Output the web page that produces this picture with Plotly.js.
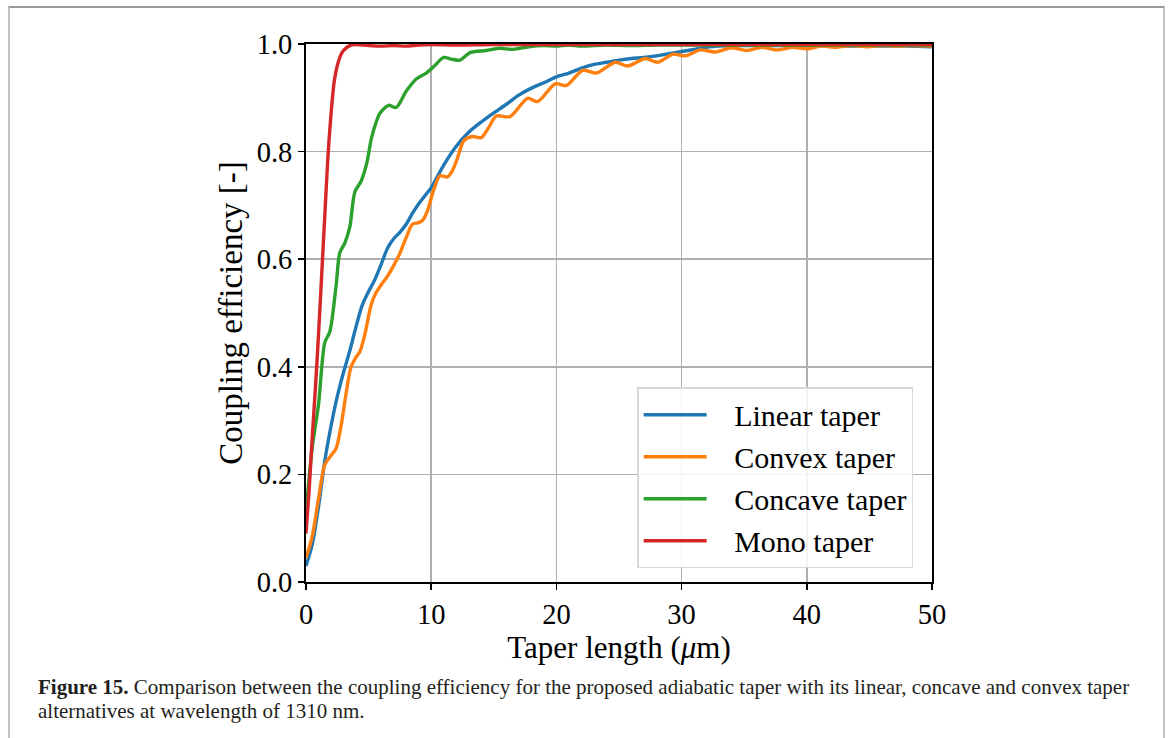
<!DOCTYPE html>
<html>
<head>
<meta charset="utf-8">
<script src="https://cdn.plot.ly/plotly-3.0.1.min.js"></script>
<style>
  html, body { margin: 0; padding: 0; background: #ffffff; }
  #wrap { position: relative; width: 1168px; height: 738px; overflow: hidden; }
  #chart { position: absolute; left: 0; top: 0; width: 1168px; height: 738px; }
  #frame { position: absolute; left: 8px; top: 6px; width: 1153px; height: 800px;
           border-top: 2px solid #9a9a9a; border-left: 2px solid #c4c4c4; border-right: 2px solid #c4c4c4;
           pointer-events: none; }
</style>
</head>
<body>
<div id="wrap">
  <div id="chart"></div>
  <div id="frame"></div>
</div>
<script>
// ---- Data ----
const seriesNames = ["Linear taper", "Convex taper", "Concave taper", "Mono taper"];
const seriesColors = ["#1f77b4", "#ff7f0e", "#2ca02c", "#d62728"];

const linearX = [0, 0.5, 1.0, 1.5, 2.0, 2.5, 3.0, 3.5, 4.0, 4.5, 5.0, 5.5, 6.0, 6.5, 7.0, 7.5, 8.0, 8.5, 9.0, 9.5, 10, 11, 12, 13, 14, 15, 16, 17, 18, 19, 20, 21, 22, 23, 24, 25, 26, 27, 28, 29, 30, 31, 32, 33, 34, 36, 38, 40, 42, 44, 46, 48, 50];
const linearY = [0.03, 0.07, 0.14, 0.225, 0.29, 0.345, 0.39, 0.43, 0.475, 0.515, 0.54, 0.562, 0.59, 0.62, 0.638, 0.65, 0.665, 0.685, 0.703, 0.718, 0.733, 0.775, 0.81, 0.836, 0.855, 0.872, 0.888, 0.905, 0.918, 0.928, 0.939, 0.946, 0.955, 0.962, 0.966, 0.970, 0.973, 0.975, 0.978, 0.982, 0.986, 0.990, 0.994, 0.996, 0.997, 0.997, 0.997, 0.997, 0.996, 0.996, 0.996, 0.996, 0.995];

const convexX = [0, 0.5, 1.0, 1.5, 2.0, 2.4, 2.8, 3.2, 3.6, 4.0, 4.3, 4.7, 5.2, 5.6, 6.0, 6.5, 7.0, 7.5, 8.0, 8.5, 9.0, 9.3, 9.7, 10.2, 10.7, 11.3, 11.7, 12.1, 12.6, 13.3, 14.0, 14.6, 15.2, 16.3, 17.7, 18.5, 19.9, 20.8, 22.1, 23.2, 24.7, 25.7, 27.1, 28.1, 29.3, 30.3, 31.5, 32.7, 34.0, 35.2, 36.4, 37.6, 38.9, 40.0, 41.2, 42.4, 43.6, 44.8, 46.0, 47.2, 48.4, 50];
const convexY = [0.045, 0.085, 0.155, 0.218, 0.235, 0.248, 0.29, 0.35, 0.40, 0.418, 0.428, 0.46, 0.515, 0.538, 0.552, 0.568, 0.588, 0.611, 0.64, 0.665, 0.668, 0.672, 0.69, 0.729, 0.755, 0.753, 0.765, 0.788, 0.82, 0.828, 0.826, 0.845, 0.866, 0.865, 0.899, 0.893, 0.926, 0.923, 0.951, 0.946, 0.966, 0.959, 0.973, 0.966, 0.981, 0.978, 0.989, 0.985, 0.993, 0.988, 0.994, 0.989, 0.994, 0.991, 0.996, 0.994, 0.997, 0.995, 0.997, 0.996, 0.997, 0.996];

const concaveX = [0, 0.5, 1.0, 1.5, 1.9, 2.4, 2.7, 3.1, 3.5, 3.9, 4.4, 4.85, 5.25, 5.9, 6.6, 7.2, 8.0, 8.8, 9.6, 10.2, 11.0, 11.6, 12.3, 13.1, 14.4, 15.5, 16.5, 17.8, 19, 20, 21, 22, 24, 26, 28, 30, 35, 40, 45, 50];
const concaveY = [0.13, 0.25, 0.33, 0.445, 0.465, 0.55, 0.612, 0.63, 0.66, 0.725, 0.745, 0.778, 0.827, 0.871, 0.886, 0.882, 0.912, 0.935, 0.946, 0.958, 0.975, 0.972, 0.970, 0.984, 0.988, 0.992, 0.990, 0.995, 0.997, 0.996, 0.998, 0.996, 0.998, 0.997, 0.998, 0.998, 0.998, 0.998, 0.998, 0.998];

const monoX = [0, 0.25, 0.5, 0.75, 1.0, 1.25, 1.5, 1.75, 2.0, 2.25, 2.5, 2.75, 3.0, 3.5, 4, 5, 6, 7, 8, 9, 10, 12, 15, 20, 30, 40, 50];
const monoY = [0.09, 0.17, 0.27, 0.36, 0.46, 0.57, 0.68, 0.79, 0.87, 0.93, 0.96, 0.978, 0.988, 0.997, 0.999, 0.997, 0.996, 0.997, 0.996, 0.998, 0.999, 0.998, 0.999, 0.999, 0.999, 0.999, 0.999];

const xTicks = [0, 10, 20, 30, 40, 50];
const yTicks = [0.0, 0.2, 0.4, 0.6, 0.8, 1.0];

const captionLines = [
  "<b>Figure 15.</b> Comparison between the coupling efficiency for the proposed adiabatic taper with its linear, concave and convex taper",
  "alternatives at wavelength of 1310 nm."
];

const xs = [linearX, convexX, concaveX, monoX];
const ys = [linearY, convexY, concaveY, monoY];

const SERIF = "Liberation Serif, Times New Roman, serif";
const PAD = "\u00A0\u00A0\u00A0";

const traces = seriesNames.map((name, i) => ({
  type: "scatter",
  mode: "lines",
  name: PAD + name,
  legendgroup: "g" + i,
  x: xs[i],
  y: ys[i],
  line: { color: seriesColors[i], width: 3.4, shape: "spline", smoothing: 0.8 }
}));

const layout = {
  width: 1168,
  height: 738,
  paper_bgcolor: "rgba(255,255,255,0)",
  plot_bgcolor: "#ffffff",
  margin: { l: 306, r: 236, t: 44, b: 156 },
  showlegend: true,
  xaxis: {
    range: [0, 50],
    tickvals: xTicks,
    ticktext: xTicks.map(String),
    ticks: "outside", ticklen: 6, tickwidth: 1.5, tickcolor: "#000",
    showline: true, linecolor: "#000", linewidth: 2, mirror: true,
    showgrid: true, gridcolor: "#b0b0b0", gridwidth: 1.5,
    zeroline: false,
    tickfont: { family: SERIF, size: 28.5, color: "#000" },
    title: { text: "Taper length (<i>μ</i>m)", font: { family: SERIF, size: 31, color: "#000" }, standoff: 4 }
  },
  yaxis: {
    range: [0, 1],
    tickvals: yTicks,
    ticktext: yTicks.map(v => v.toFixed(1)),
    ticks: "outside", ticklen: 6, tickwidth: 1.5, tickcolor: "#000",
    showline: true, linecolor: "#000", linewidth: 2, mirror: true,
    showgrid: true, gridcolor: "#b0b0b0", gridwidth: 1.5,
    zeroline: false,
    tickfont: { family: SERIF, size: 28.5, color: "#000" },
    title: { text: "Coupling efficiency [-]", font: { family: SERIF, size: 33, color: "#000" }, standoff: 4 }
  },
  legend: {
    x: 0.529, y: 0.362, xanchor: "left", yanchor: "top",
    bgcolor: "rgba(255,255,255,0.85)",
    bordercolor: "#d8d8d8", borderwidth: 1.5,
    font: { family: SERIF, size: 30, color: "#000" },
    tracegroupgap: 0,
    itemwidth: 63
  },
  annotations: captionLines.map((t, k) => ({
    xref: "paper", yref: "paper",
    x: (36 - 306) / 626, y: (582 - (687 + 24 * k)) / 538,
    xanchor: "left", yanchor: "middle", align: "left",
    showarrow: false,
    text: t,
    font: { family: SERIF, size: 21, color: "#231f20" }
  }))
};

Plotly.newPlot("chart", traces, layout, { displayModeBar: false, staticPlot: true });
</script>
</body>
</html>
